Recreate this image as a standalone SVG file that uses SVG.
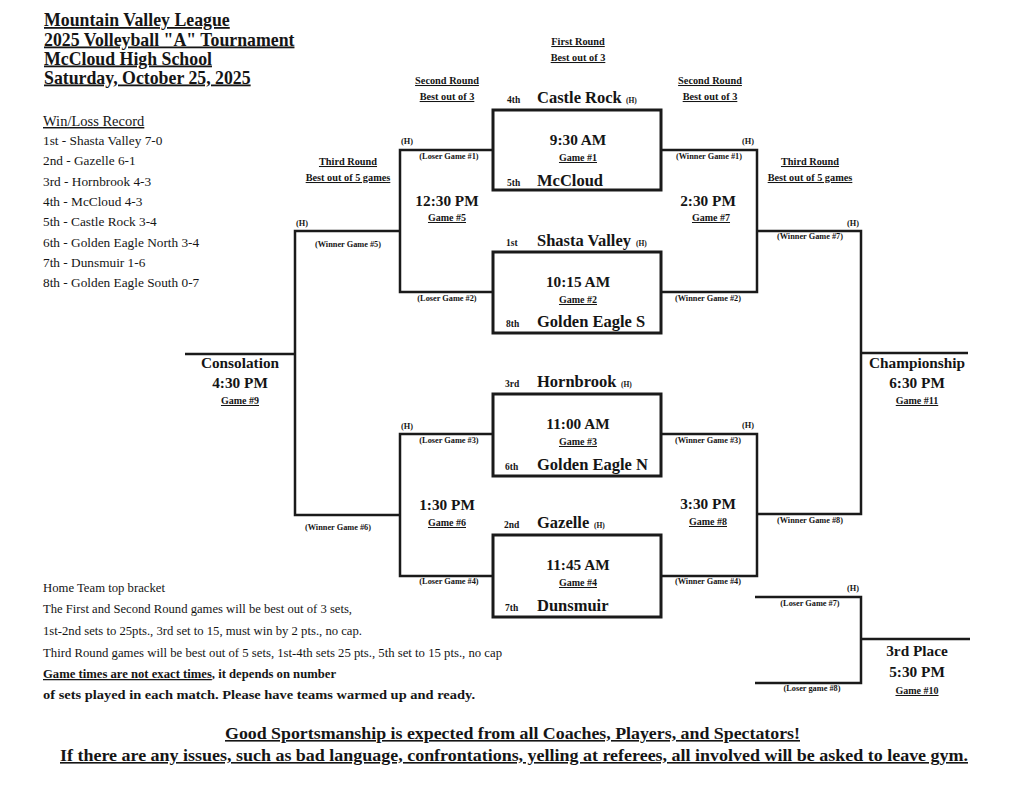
<svg xmlns="http://www.w3.org/2000/svg" width="1024" height="785" viewBox="0 0 1024 785">
<style>
text{font-family:"Liberation Serif","Times New Roman",serif;fill:#151515}
.b{font-weight:bold}
.u{text-decoration:underline}
.m{text-anchor:middle}
.hd{font-size:17.8px;font-weight:bold;text-decoration:underline}
.team{font-size:16.5px;font-weight:bold}
.seed{font-size:9.5px;font-weight:bold}
.h{font-size:7.5px;font-weight:bold}
.time{font-size:15.3px;font-weight:bold;text-anchor:middle}
.gm{font-size:10px;font-weight:bold;text-decoration:underline;text-anchor:middle}
.src{font-size:8.3px;font-weight:bold;text-anchor:middle}
.rnd{font-size:10.3px;font-weight:bold;text-decoration:underline;text-anchor:middle}
.rec{font-size:13.3px}
.note{font-size:12.6px}
.box{fill:none;stroke:#1a1a1a;stroke-width:3}
.ln{fill:none;stroke:#1a1a1a;stroke-width:2.5}
</style>
<rect width="1024" height="785" fill="#ffffff"/>

<g id="header">
<text class="hd" x="44" y="26">Mountain Valley League</text>
<text class="hd" x="44" y="45.5">2025 Volleyball "A" Tournament</text>
<text class="hd" x="44" y="64.5">McCloud High School</text>
<text class="hd" x="44" y="83.5">Saturday, October 25, 2025</text>
</g>

<g id="record">
<text x="43" y="126" style="font-size:14.5px" class="u">Win/Loss Record</text>
<text class="rec" x="43" y="145">1st - Shasta Valley 7-0</text>
<text class="rec" x="43" y="165">2nd - Gazelle 6-1</text>
<text class="rec" x="43" y="185.5">3rd - Hornbrook 4-3</text>
<text class="rec" x="43" y="206">4th - McCloud 4-3</text>
<text class="rec" x="43" y="226">5th - Castle Rock 3-4</text>
<text class="rec" x="43" y="246.5">6th - Golden Eagle North 3-4</text>
<text class="rec" x="43" y="267">7th - Dunsmuir 1-6</text>
<text class="rec" x="43" y="287">8th - Golden Eagle South 0-7</text>
</g>

<g id="round-labels">
<text class="rnd" x="578" y="45">First Round</text>
<text class="rnd" x="578" y="61">Best out of 3</text>
<text class="rnd" x="447" y="84">Second Round</text>
<text class="rnd" x="447" y="100">Best out of 3</text>
<text class="rnd" x="710" y="84">Second Round</text>
<text class="rnd" x="710" y="100">Best out of 3</text>
<text class="rnd" x="348" y="165">Third Round</text>
<text class="rnd" x="348" y="181">Best out of 5 games</text>
<text class="rnd" x="810" y="165">Third Round</text>
<text class="rnd" x="810" y="181">Best out of 5 games</text>
</g>

<g id="connectors">
<polyline class="ln" points="493,150 400,150 400,292 493,292"/>
<polyline class="ln" points="493,434 400,434 400,576 493,576"/>
<polyline class="ln" points="400,231 295,231 295,515 400,515"/>
<line class="ln" x1="185" y1="354" x2="295" y2="354"/>
<polyline class="ln" points="661,150 757,150 757,292 661,292"/>
<polyline class="ln" points="661,434 757,434 757,576 661,576"/>
<polyline class="ln" points="757,231 861,231 861,514 757,514"/>
<line class="ln" x1="861" y1="353" x2="968" y2="353"/>
<polyline class="ln" points="755,597 861,597 861,683 755,683"/>
<line class="ln" x1="861" y1="639" x2="970" y2="639"/>
</g>

<g id="game1">
<rect class="box" x="493" y="110" width="168" height="80"/>
<text class="seed" x="507" y="103">4th</text>
<text class="team" x="537" y="103">Castle Rock</text>
<text class="h" x="626" y="103">(H)</text>
<text class="time" x="578" y="145">9:30 AM</text>
<text class="gm" x="578" y="161">Game #1</text>
<text class="seed" x="507" y="186">5th</text>
<text class="team" x="537" y="186">McCloud</text>
</g>

<g id="game2">
<rect class="box" x="493" y="252" width="168" height="81"/>
<text class="seed" x="506" y="246">1st</text>
<text class="team" x="537" y="246">Shasta Valley</text>
<text class="h" x="636" y="246">(H)</text>
<text class="time" x="578" y="287">10:15 AM</text>
<text class="gm" x="578" y="303">Game #2</text>
<text class="seed" x="506" y="327">8th</text>
<text class="team" x="537" y="327">Golden Eagle S</text>
</g>

<g id="game3">
<rect class="box" x="493" y="394" width="168" height="82"/>
<text class="seed" x="505" y="387">3rd</text>
<text class="team" x="537" y="387">Hornbrook</text>
<text class="h" x="621" y="387">(H)</text>
<text class="time" x="578" y="429">11:00 AM</text>
<text class="gm" x="578" y="445">Game #3</text>
<text class="seed" x="505" y="470">6th</text>
<text class="team" x="537" y="470">Golden Eagle N</text>
</g>

<g id="game4">
<rect class="box" x="493" y="535" width="168" height="82"/>
<text class="seed" x="504" y="528">2nd</text>
<text class="team" x="537" y="528">Gazelle</text>
<text class="h" x="594" y="528">(H)</text>
<text class="time" x="578" y="570">11:45 AM</text>
<text class="gm" x="578" y="586">Game #4</text>
<text class="seed" x="505" y="611">7th</text>
<text class="team" x="537" y="611">Dunsmuir</text>
</g>

<g id="game5">
<text class="src" x="407" y="144">(H)</text>
<text class="src" x="449" y="159">(Loser Game #1)</text>
<text class="time" x="447" y="206">12:30 PM</text>
<text class="gm" x="447" y="221">Game #5</text>
<text class="src" x="447" y="301">(Loser Game #2)</text>
</g>

<g id="game6">
<text class="src" x="407" y="429">(H)</text>
<text class="src" x="449" y="443">(Loser Game #3)</text>
<text class="time" x="447" y="510">1:30 PM</text>
<text class="gm" x="447" y="526">Game #6</text>
<text class="src" x="449" y="584">(Loser Game #4)</text>
</g>

<g id="game7">
<text class="src" x="748" y="144">(H)</text>
<text class="src" x="709" y="159">(Winner Game #1)</text>
<text class="time" x="708" y="206">2:30 PM</text>
<text class="gm" x="711" y="221">Game #7</text>
<text class="src" x="708" y="301">(Winner Game #2)</text>
</g>

<g id="game8">
<text class="src" x="748" y="428">(H)</text>
<text class="src" x="708" y="443">(Winner Game #3)</text>
<text class="time" x="708" y="509">3:30 PM</text>
<text class="gm" x="708" y="525">Game #8</text>
<text class="src" x="708" y="584">(Winner Game #4)</text>
</g>

<g id="game9">
<text class="src" x="302" y="226">(H)</text>
<text class="src" x="348" y="247">(Winner Game #5)</text>
<text class="src" x="338" y="530">(Winner Game #6)</text>
<text class="time" x="240" y="368">Consolation</text>
<text class="time" x="240" y="388">4:30 PM</text>
<text class="gm" x="240" y="404">Game #9</text>
</g>

<g id="game11">
<text class="src" x="853" y="226">(H)</text>
<text class="src" x="810" y="239">(Winner Game #7)</text>
<text class="src" x="810" y="523">(Winner Game #8)</text>
<text class="time" x="917" y="368">Championship</text>
<text class="time" x="917" y="388">6:30 PM</text>
<text class="gm" x="917" y="404">Game #11</text>
</g>

<g id="game10">
<text class="src" x="853" y="591">(H)</text>
<text class="src" x="810" y="606">(Loser Game #7)</text>
<text class="src" x="812" y="691">(Loser game #8)</text>
<text class="time" x="917" y="656">3rd Place</text>
<text class="time" x="917" y="677">5:30 PM</text>
<text class="gm" x="917" y="694">Game #10</text>
</g>

<g id="notes">
<text class="note" x="43" y="592" textLength="122" lengthAdjust="spacingAndGlyphs">Home Team top bracket</text>
<text class="note" x="43" y="613" textLength="309" lengthAdjust="spacingAndGlyphs">The First and Second Round games will be best out of 3 sets,</text>
<text class="note" x="43" y="635" textLength="319" lengthAdjust="spacingAndGlyphs">1st-2nd sets to 25pts., 3rd set to 15, must win by 2 pts., no cap.</text>
<text class="note" x="43" y="657" textLength="459" lengthAdjust="spacingAndGlyphs">Third Round games will be best out of 5 sets, 1st-4th sets 25 pts., 5th set to 15 pts., no cap</text>
<text class="note b" x="43" y="678" textLength="293" lengthAdjust="spacingAndGlyphs"><tspan class="u">Game times are not exact times</tspan>, it depends on number</text>
<text class="note b" x="43" y="699" textLength="432" lengthAdjust="spacingAndGlyphs">of sets played in each match. Please have teams warmed up and ready.</text>
</g>

<g id="footer">
<text class="b u" x="225" y="739" style="font-size:16px" textLength="575" lengthAdjust="spacingAndGlyphs">Good Sportsmanship is expected from all Coaches, Players, and Spectators!</text>
<text class="b u" x="60" y="761" style="font-size:16px" textLength="908" lengthAdjust="spacingAndGlyphs">If there are any issues, such as bad language, confrontations, yelling at referees, all involved will be asked to leave gym.</text>
</g>
</svg>
